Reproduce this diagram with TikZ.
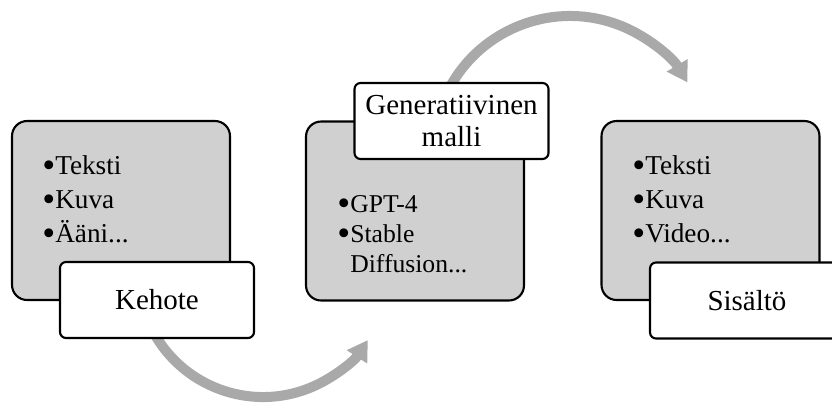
\documentclass[tikz,border=0pt]{standalone}
\usepackage{fontspec}
\setmainfont{Liberation Serif}
\usetikzlibrary{arrows.meta}
\definecolor{panelgray}{HTML}{D0D0D0}
\definecolor{flowgray}{HTML}{A9A9A9}
% a slightly larger, lowered bullet
\newcommand\blt{\smash{\raisebox{-2pt}{\fontsize{21}{0}\selectfont•}}}
\begin{document}
\begin{tikzpicture}[x=0.02cm, y=-0.02cm,
    panel/.style={draw, line width=1.2pt, fill=panelgray, rounded corners=0.3cm,
      minimum width=4.36cm, minimum height=3.58cm, inner sep=0pt},
    tag/.style={draw, line width=1.2pt, fill=white, rounded corners=0.12cm,
      minimum width=3.88cm, minimum height=1.52cm, inner sep=0pt, align=center,
      font=\fontsize{16.5}{18.2}\selectfont},
    items/.style={anchor=base west, inner sep=0pt, align=left,
      font=\fontsize{15.5}{19.3}\selectfont},
    flow/.style={line width=0.2cm, draw=flowgray, -{Triangle[length=0.4cm, width=0.46cm]}}]
    \useasboundingbox (0,0) rectangle (832,403);

    % Centres of the two curved arrows
    \coordinate (lowhub) at (263,272);
    \coordinate (highhub) at (570,153);

    % Curved arrows, drawn first so the tags cover their tails
    \draw[flow] ([shift={(155:125)}]lowhub) arc[start angle=155, end angle=33, radius=125];
    \draw[flow] ([shift={(205:137)}]highhub) arc[start angle=205, end angle=329, radius=137];

    % Grey panels
    \node[panel] (prompt) at (121,210.5) {};
    \node[panel] (model) at (415,211) {};
    \node[panel] (content) at (710.5,210.5) {};

    % Bullet lists inside the panels (placed by the last baseline)
    \node[items] (promptlist) at (42,242) {\blt Teksti\\\blt Kuva\\\blt Ääni...};
    \node[items, font=\fontsize{14.6}{17}\selectfont] (modellist) at (337,272)
      {\blt GPT-4\\\blt Stable\\\phantom{\blt}Diffusion...};
    \node[items] (contentlist) at (632,242) {\blt Teksti\\\blt Kuva\\\blt Video...};

    % White tags on top of the panels
    \node[tag] (promptlabel) at (157,300) {Kehote};
    \node[tag] (modellabel) at (451.5,121) {Generatiivinen\\malli};
    \node[tag] (contentlabel) at (747,300.5) {Sisältö};
\end{tikzpicture}
\end{document}
